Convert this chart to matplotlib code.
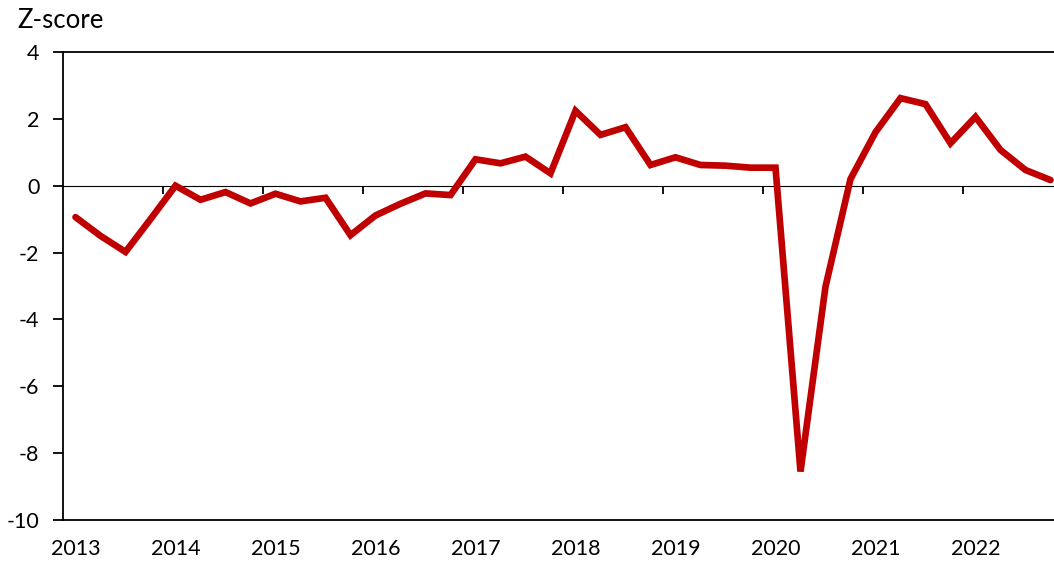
import numpy as np
import matplotlib
matplotlib.use("Agg")
import matplotlib.pyplot as plt

# quarterly z-scores, 2013Q1 .. 2022Q4
years = [str(y) for y in range(2013, 2023)]
zscore = [-0.94, -1.50, -1.98, -1.00, 0.00, -0.42, -0.19, -0.53, -0.24, -0.47,
          -0.36, -1.48, -0.89, -0.54, -0.23, -0.28, 0.79, 0.67, 0.87, 0.37,
          2.24, 1.52, 1.75, 0.62, 0.85, 0.62, 0.60, 0.54, 0.54, -8.55,
          -3.02, 0.20, 1.60, 2.62, 2.44, 1.27, 2.06, 1.07, 0.47, 0.17]
yticks = [4, 2, 0, -2, -4, -6, -8, -10]

plt.rcParams['font.family'] = ['Lato', 'DejaVu Sans']

fig = plt.figure(figsize=(10.54, 5.65), dpi=100)
ax = fig.add_axes([63/1054, 45/565, 1000/1054, 468/565])

q = np.arange(len(zscore))
ax.plot(q, zscore, color='#C00000', lw=4.8, solid_joinstyle='miter', solid_capstyle='round',
        clip_on=False, zorder=3)

ax.set_xlim(-0.5, len(zscore) - 0.5)
ax.set_ylim(-10, 4)
ax.set_yticks(yticks)
ax.set_yticklabels([str(v) for v in yticks])
ax.set_xticks(q[::4])
ax.set_xticklabels(years)

for s in ['left', 'bottom', 'top']:
    ax.spines[s].set_linewidth(1.3)
ax.spines['right'].set_visible(False)
ax.tick_params(axis='y', direction='out', length=7, width=1.3, pad=10, labelsize=15.5)
ax.tick_params(axis='x', length=0, pad=14, labelsize=15.5)

# zero line carrying the year-boundary tick marks
sec = ax.secondary_xaxis(10/14)
sec.set_xticks(q[::4][1:] - 0.5)
sec.set_xticklabels([])
sec.tick_params(direction='in', length=6, width=1.3)
sec.spines['bottom'].set_linewidth(1.3)

fig.text(17/1054, 1 - 28/565, 'Z-score', fontsize=18.5, va='baseline', ha='left')

fig.savefig('out.png', dpi=100)
